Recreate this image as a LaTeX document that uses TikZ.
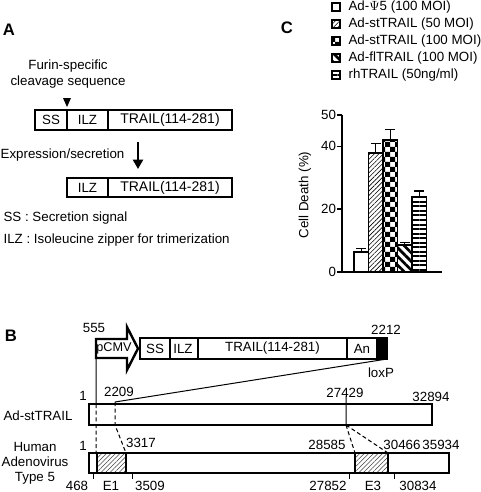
\documentclass[tikz,border=0pt]{standalone}
\usepackage{fontspec}
\setmainfont{Liberation Sans}
\usetikzlibrary{arrows.meta,patterns,patterns.meta}

% larger checkerboard than the one of the patterns library
\pgfdeclarepatternformonly{bigcheck}{\pgfpointorigin}{\pgfqpoint{7.6pt}{7.6pt}}{\pgfqpoint{7.5pt}{7.5pt}}{%
  \pgfpathrectangle{\pgfpointorigin}{\pgfqpoint{3.8pt}{3.8pt}}%
  \pgfpathrectangle{\pgfqpoint{3.75pt}{3.75pt}}{\pgfqpoint{3.8pt}{3.8pt}}%
  \pgfusepath{fill}}

\tikzset{
  every node/.style={font=\fontsize{10}{12}\selectfont,inner sep=1pt},
  panel/.style={font=\fontsize{12.5}{14}\selectfont\bfseries},
  box/.style={line width=1.8pt},
  wire/.style={line width=0.75pt},
  dashwire/.style={line width=0.75pt,dash pattern=on 3pt off 2pt},
  hatch/.style={pattern={Lines[angle=45,distance=2.4pt,line width=0.4pt]},pattern color=black!75},
  fillpsi/.style={fill=white},
  fillst/.style={pattern={Lines[angle=45,distance=2.4pt,line width=0.45pt]}},
  fillsthi/.style={pattern=bigcheck},
  fillfl/.style={pattern={Lines[angle=-45,distance=4.6pt,line width=2pt]}},
  fillrh/.style={pattern={Lines[angle=0,distance=3.4pt,line width=1.5pt]}},
}

\begin{document}
\begin{tikzpicture}[x=0.75pt,y=-0.75pt,line cap=butt,line join=miter]
\useasboundingbox (0,0) rectangle (481,492);

%% panel A
\node[panel] (lblA) at (9,30) {A};
\node[align=center] (furin) at (68,74) {Furin-specific\\cleavage sequence};
\fill (63,98) -- (71,98) -- (67,107) -- cycle;
\draw[box] (35,110) rectangle (232,130) (67,110) -- (67,130) (108,110) -- (108,130);
\node (ssA) at (51,120) {SS};
\node (ilzA) at (87.5,120) {ILZ};
\node[font=\fontsize{10.5}{12}\selectfont] (trailA) at (170,120) {TRAIL(114-281)};
\node (expr) at (62.5,155) {Expression/secretion};
\coordinate (arrtop) at (138,142);
\coordinate (arrbot) at (138,169);
\draw[line width=1.6pt,-{Triangle[width=7.5pt,length=7pt]}] (arrtop) -- (arrbot);
\draw[box] (67,178) rectangle (232,197) (108,178) -- (108,197);
\node (ilzB) at (87.5,187.5) {ILZ};
\node[font=\fontsize{10.5}{12}\selectfont] (trailB) at (170,187.5) {TRAIL(114-281)};
\node[anchor=west] (keyss) at (2,218) {SS : Secretion signal};
\node[anchor=west] (keyilz) at (2,240) {ILZ : Isoleucine zipper for trimerization};

%% panel C
\node[panel] (lblC) at (287,28) {C};
\foreach \y/\s/\t [count=\k] in {7/fillpsi/{Ad-$\Psi$5 (100 MOI)},
    24/fillst/{Ad-stTRAIL (50 MOI)},
    41/fillsthi/{Ad-stTRAIL (100 MOI)},
    58/fillfl/{Ad-flTRAIL (100 MOI)},
    75/fillrh/{rhTRAIL (50ng/ml)}} {
  \draw[line width=1.2pt,\s] (332,\y-4) rectangle (340,\y+4);
  \node[anchor=west] (leg\k) at (347,\y) {\t};
}
\draw[line width=1.2pt] (342,115) -- (342,272) -- (442,272);
\foreach \v in {0,20,40,50} {
  \draw[line width=1.2pt] (337,{272-3.14*\v}) -- (342,{272-3.14*\v});
  \node[anchor=east,inner sep=0.5pt] (tick\v) at (337,{272-3.14*\v}) {\v};
}
\node[rotate=90] (ylab) at (305,195) {Cell Death (\%)};
\foreach \v/\e/\s [count=\k from 0] in {6.4/7.6/fillpsi,37.9/41/fillst,
    42/45.5/fillsthi,8.6/9.5/fillfl,23.9/25.8/fillrh} {
  \draw[line width=1.2pt,\s] ({354+14.5*\k},272) rectangle ({368.5+14.5*\k},{272-3.14*\v});
  \draw[line width=0.9pt] ({361.25+14.5*\k},{272-3.14*\v}) -- ({361.25+14.5*\k},{272-3.14*\e})
    ({356.25+14.5*\k},{272-3.14*\e}) -- ({366.25+14.5*\k},{272-3.14*\e});
}

%% panel B
\node[panel] (lblB) at (11,336) {B};
\node (n555) at (94,328) {555};
\draw[box] (96,339) -- (127,339) -- (127,327) -- (138,348.5) -- (127,370) -- (127,358)
  -- (96,358) -- cycle;
\node[font=\fontsize{9.5}{11}\selectfont,inner sep=0pt] (pcmv) at (114,348.5) {pCMV};
\fill (377,338) rectangle (387,359);
\draw[box] (140,338) rectangle (387,359) (170,338) -- (170,359) (198,338) -- (198,359)
  (347,338) -- (347,359) (377,338) -- (377,359);
\node (ssC) at (155,348.5) {SS};
\node (ilzC) at (183,348.5) {ILZ};
\node (trailC) at (272.5,348.5) {TRAIL(114-281)};
\node (an) at (362,348.5) {An};
\node (n2212) at (386,330) {2212};
\node (loxp) at (381,373) {loxP};

\coordinate (cmvfoot) at (96,358);
\coordinate (loxfoot) at (387,359);
\coordinate (s1top) at (96,404);
\coordinate (s2209) at (115,402);
\coordinate (s2209b) at (115,425);
\coordinate (s27429t) at (346,396);
\coordinate (s27429b) at (346,425);
\coordinate (e1top) at (96,453);
\coordinate (e1right) at (126,453);
\coordinate (e3left) at (355,453);
\coordinate (e3right) at (388,453);

\draw[wire] (cmvfoot) -- (s1top) (loxfoot) -- (s2209) (s27429t) -- (s27429b);
\draw[dashwire] (s1top) -- (e1top) (s2209) -- (s2209b) -- (e1right)
  (s27429b) -- (e3left) (s27429b) -- (e3right);

\node (adst) at (38,416) {Ad-stTRAIL};
\draw[box] (89,404) rectangle (432,425);
\node (one1) at (83,396) {1};
\node (n2209) at (119,392) {2209};
\node (n27429) at (345,393) {27429};
\node (n32894) at (431,397) {32894};

\node[align=center,font=\fontsize{10}{11.25}\selectfont] (hadv) at (35,463) {Human\\Adenovirus\\Type 5};
\draw[hatch] (97,453) rectangle (126,473) (355,453) rectangle (388,473);
\draw[box] (89,453) rectangle (449,473) (97,453) -- (97,473) (126,453) -- (126,473)
  (355,453) -- (355,473) (388,453) -- (388,473);
\draw[wire] (93,473) -- (93,479) (132,473) -- (132,479) (349,473) -- (349,479) (394,473) -- (394,479);
\node (one2) at (83,446) {1};
\node (n3317) at (141,443) {3317};
\node (n28585) at (327,445) {28585};
\node (n30466) at (402,445) {30466};
\node (n35934) at (441,445) {35934};
\node (n468) at (77,485.5) {468};
\node (e1) at (111,485.5) {E1};
\node (n3509) at (150,485.5) {3509};
\node (n27852) at (328,485.5) {27852};
\node (e3) at (373,485.5) {E3};
\node (n30834) at (418,485.5) {30834};
\end{tikzpicture}
\end{document}
